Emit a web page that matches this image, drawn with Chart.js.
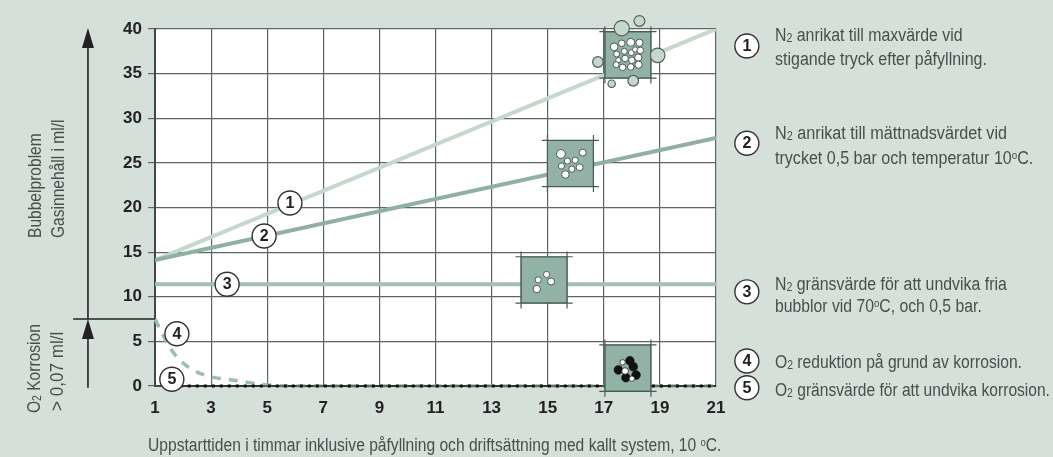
<!DOCTYPE html>
<html><head><meta charset="utf-8">
<script src="https://cdn.jsdelivr.net/npm/chart.js@4"></script>
<style>
html,body{margin:0;padding:0;background:#d6e0da;width:1053px;height:457px;overflow:hidden}
#wrap{position:relative;width:1053px;height:457px}
canvas{position:absolute;left:0;top:0}
.t{position:absolute;font-family:"Liberation Sans",sans-serif;font-size:18px;line-height:20px;color:#45504c;white-space:nowrap;transform:scaleX(.882);transform-origin:left top}
.b{transform:scaleX(.867)}
.r{transform:rotate(-90deg) scaleX(.865)}
.r2{transform:rotate(-90deg) scaleX(.95)}
.n{transform:scaleX(.865)}
.m{transform:scaleX(.9)}
sub{font-size:12px;vertical-align:baseline;position:relative;top:1px}
sup{font-size:11px;vertical-align:baseline;position:relative;top:-5px}
</style></head><body>
<div id="wrap">
<canvas id="c" width="1053" height="457"></canvas>
<div class="t" style="left:775px;top:25px">N<sub>2</sub> anrikat till maxvärde vid</div>
<div class="t m" style="left:775px;top:49px;transform:scaleX(.89)">stigande tryck efter påfyllning.</div>
<div class="t m" style="left:775px;top:123px">N<sub>2</sub> anrikat till mättnadsvärdet vid</div>
<div class="t m" style="left:775px;top:148px;transform:scaleX(.893)">trycket 0,5 bar och temperatur 10<sup>o</sup>C.</div>
<div class="t" style="left:775px;top:274px">N<sub>2</sub> gränsvärde för att undvika fria</div>
<div class="t" style="left:775px;top:296px;transform:scaleX(.875)">bubblor vid 70<sup>o</sup>C, och 0,5 bar.</div>
<div class="t" style="left:775px;top:352px;transform:scaleX(.87)">O<sub>2</sub> reduktion på grund av korrosion.</div>
<div class="t n" style="left:775px;top:380px">O<sub>2</sub> gränsvärde för att undvika korrosion.</div>
<div class="t b" style="left:148px;top:435px">Uppstarttiden i timmar inklusive påfyllning och driftsättning med kallt system, 10 <sup>o</sup>C.</div>
<div class="t r" style="left:25px;top:238px">Bubbelproblem</div>
<div class="t r" style="left:48px;top:238px">Gasinnehåll i ml/l</div>
<div class="t r" style="left:24px;top:413px">O<sub>2</sub> Korrosion</div>
<div class="t r2" style="left:47px;top:411px">&gt; 0,07 ml/l</div>
</div>
<script>
const xTicks=[1,3,5,7,9,11,13,15,17,19,21];
const yTicks=[0,5,10,15,20,25,30,35,40];
const line1=[{x:1,y:14.1},{x:21,y:40}];
const line2=[{x:1,y:14.1},{x:21,y:27.8}];
const line3=[{x:1,y:11.4},{x:21,y:11.4}];
const line4=[{x:1,y:7.5},{x:1.35,y:5.3},{x:1.78,y:3.25},{x:2.35,y:1.8},{x:2.96,y:1.05},{x:3.57,y:0.75},{x:4.28,y:0.42},{x:5,y:0.12},{x:6,y:0},{x:21,y:0}];
const line5=[{x:1.6,y:0},{x:21,y:0}];
const squares=[{x:17.86,y:37.1},{x:15.81,y:24.93},{x:14.87,y:11.88},{x:17.86,y:2.0}];
const paleBubbles=[[17.64,40.08,7.6],[18.27,40.9,5.4],[18.92,37.05,7.3],[16.79,36.3,5.3],[18.05,34.2,5.3],[17.28,33.87,3.7]];
const whiteBubbles=[[17.37,38,3.9],[17.64,38.4,3.3],[17.96,38.5,4],[18.27,38.46,3.6],[17.73,37.5,3],[17.98,37.35,3],[18.12,37.7,2.7],[18.3,37.6,3.3],[17.46,37.2,3],[17.76,36.7,3.3],[17.52,36.5,2.7],[18,36.5,3.3],[18.23,36.8,3.6],[17.44,36,3],[17.67,35.7,3.3],[17.96,35.75,3.3],[18.24,36,3.6],
[15.47,26,4.4],[16.25,26.15,3.5],[15.7,25.2,3.1],[15.98,25.3,3.1],[15.49,24.65,3.1],[16.14,24.5,3.5],[15.86,24.3,3.1],[15.63,23.7,3.8],
[14.96,12.5,3.1],[14.66,11.9,3.1],[15.12,11.7,3.5],[14.61,10.87,3.7]];
const blackBubbles=[[17.93,2.83,4.4],[17.52,1.8,4.4],[18.05,2.16,4.4],[18.15,1.23,4.4],[17.79,0.93,4.4]];
const smallWhite=[[17.67,2.65,2.7],[17.76,1.68,3.3],[18,0.82,2.7]];
const markers=[{x:5.81,y:20.5,n:'1'},{x:4.89,y:16.8,n:'2'},{x:3.57,y:11.4,n:'3'},{x:1.78,y:5.85,n:'4'},{x:1.6,y:0.75,n:'5'},
{x:22.1,y:38.1,n:'1'},{x:22.1,y:27.2,n:'2'},{x:22.1,y:10.55,n:'3'},{x:22.1,y:2.8,n:'4'},{x:22.1,y:-0.2,n:'5'}];
const arrowX=-1.39, axisStubX=-1.92, splitY=7.5, arrowTopY=40.1, arrowBottomY=-0.2;
const HX=0.82,HY=2.6,EX=0.2,EY=0.6;
const crop=[];
squares.forEach(s=>{
 crop.push({x:s.x-HX-EX,y:s.y+HY},{x:s.x+HX+EX,y:s.y+HY},{x:null,y:null},
 {x:s.x-HX-EX,y:s.y-HY},{x:s.x+HX+EX,y:s.y-HY},{x:null,y:null},
 {x:s.x-HX,y:s.y+HY+EY},{x:s.x-HX,y:s.y-HY-EY},{x:null,y:null},
 {x:s.x+HX,y:s.y+HY+EY},{x:s.x+HX,y:s.y-HY-EY},{x:null,y:null});
});
const pts=a=>a.map(b=>({x:b[0],y:b[1]}));
const rad=a=>a.map(b=>b[2]);
function bubble(a,fill,bc,bw){return {type:'scatter',data:pts(a),pointRadius:rad(a),pointHoverRadius:rad(a),backgroundColor:fill,borderColor:bc,borderWidth:bw,showLine:false,clip:false};}
function ln(d,c,w,extra){return Object.assign({type:'scatter',data:d,showLine:true,borderColor:c,backgroundColor:c,borderWidth:w,pointRadius:0,tension:0},extra||{});}
const overlay={id:'overlay',afterDatasetsDraw(ch){
 const c=ch.ctx,X=ch.scales.x,Y=ch.scales.y;
 c.save();
 paleBubbles.forEach(b=>{c.beginPath();c.arc(X.getPixelForValue(b[0]),Y.getPixelForValue(b[1]),b[2],0,7);c.fillStyle='#c6d8cc';c.fill();c.strokeStyle='#4f5f5a';c.lineWidth=1.2;c.stroke();});
 markers.forEach(m=>{c.beginPath();c.arc(X.getPixelForValue(m.x),Y.getPixelForValue(m.y),12,0,7);c.fillStyle='#fff';c.fill();c.strokeStyle='#333';c.lineWidth=1.4;c.stroke();});
 c.font='bold 16px "Liberation Sans",sans-serif';c.textAlign='center';c.textBaseline='middle';c.fillStyle='#222';
 markers.forEach(m=>c.fillText(m.n,X.getPixelForValue(m.x),Y.getPixelForValue(m.y)+0.5));
 const ax=X.getPixelForValue(arrowX),sx=X.getPixelForValue(axisStubX),left=X.left,sy=Y.getPixelForValue(splitY),ty=Y.getPixelForValue(arrowTopY),by=Y.getPixelForValue(arrowBottomY);
 c.strokeStyle='#222';c.fillStyle='#222';c.lineWidth=1.6;
 c.beginPath();c.moveTo(ax,ty+12);c.lineTo(ax,sy);c.moveTo(ax,sy+15);c.lineTo(ax,by);c.stroke();
 c.beginPath();c.moveTo(sx,sy);c.lineTo(left,sy);c.stroke();
 [ty,sy].forEach(t=>{c.beginPath();c.moveTo(ax,t);c.lineTo(ax+6,t+20);c.lineTo(ax-6,t+20);c.closePath();c.fill();});
 c.restore();
}};
const bg={id:'bg',beforeDraw(ch){const c=ch.ctx,a=ch.chartArea;c.save();c.fillStyle='#fff';c.fillRect(a.left,a.top,a.right-a.left,a.bottom-a.top);c.restore();}};
new Chart(document.getElementById('c'),{
 data:{datasets:[
  Object.assign(bubble(smallWhite,'#fff','#222',0.8),{order:2}),
  Object.assign(bubble(blackBubbles,'#111','#111',0.5),{order:3}),
  Object.assign(bubble(whiteBubbles,'#fff','#4a5a55',1),{order:4}),
  ln(crop,'#4a5a55',1.2,{order:6,spanGaps:false,clip:false}),
  {type:'scatter',data:squares,pointStyle:'rect',pointRadius:32.5,pointHoverRadius:32.5,backgroundColor:'#92b2a5',borderColor:'#5f7a70',borderWidth:1,showLine:false,clip:false,order:7},
  ln(line5,'#111',3,{order:8,borderDash:[3,5],clip:false}),
  ln(line5,'#222',1,{order:9,clip:false}),
  ln(line4,'#9dbdb0',3.5,{order:10,borderDash:[9,8],tension:0.35,clip:false}),
  ln(line3,'#a3c0b3',4,{order:11}),
  ln(line2,'#8fb0a3',4,{order:12}),
  ln(line1,'#c6d8cc',4,{order:13})
 ]},
 options:{responsive:false,animation:false,
  layout:{autoPadding:false,padding:{left:0,right:337,top:29,bottom:0}},
  plugins:{legend:{display:false},tooltip:{enabled:false}},
  scales:{
   x:{type:'linear',min:1,max:21,afterFit(s){s.height=71;},afterBuildTicks(s){s.ticks=xTicks.map(v=>({value:v}));},
    ticks:{autoSkip:false,maxRotation:0,color:'#222',padding:12,font:{family:'"Liberation Sans",sans-serif',size:17,weight:'bold'}},
    grid:{color:'#5c6664',lineWidth:1.2,drawTicks:false},border:{display:true,color:'#3d4a47',width:2}},
   y:{type:'linear',min:0,max:40,afterFit(s){s.width=155;},afterBuildTicks(s){s.ticks=yTicks.map(v=>({value:v}));},
    ticks:{autoSkip:false,color:'#222',padding:6,font:{family:'"Liberation Sans",sans-serif',size:17,weight:'bold'}},
    grid:{color:'#5c6664',lineWidth:1.2,tickLength:7,tickColor:'#5c6664'},border:{display:true,color:'#3d4a47',width:2}}
  }},
 plugins:[bg,overlay]
});
</script>
</body></html>
